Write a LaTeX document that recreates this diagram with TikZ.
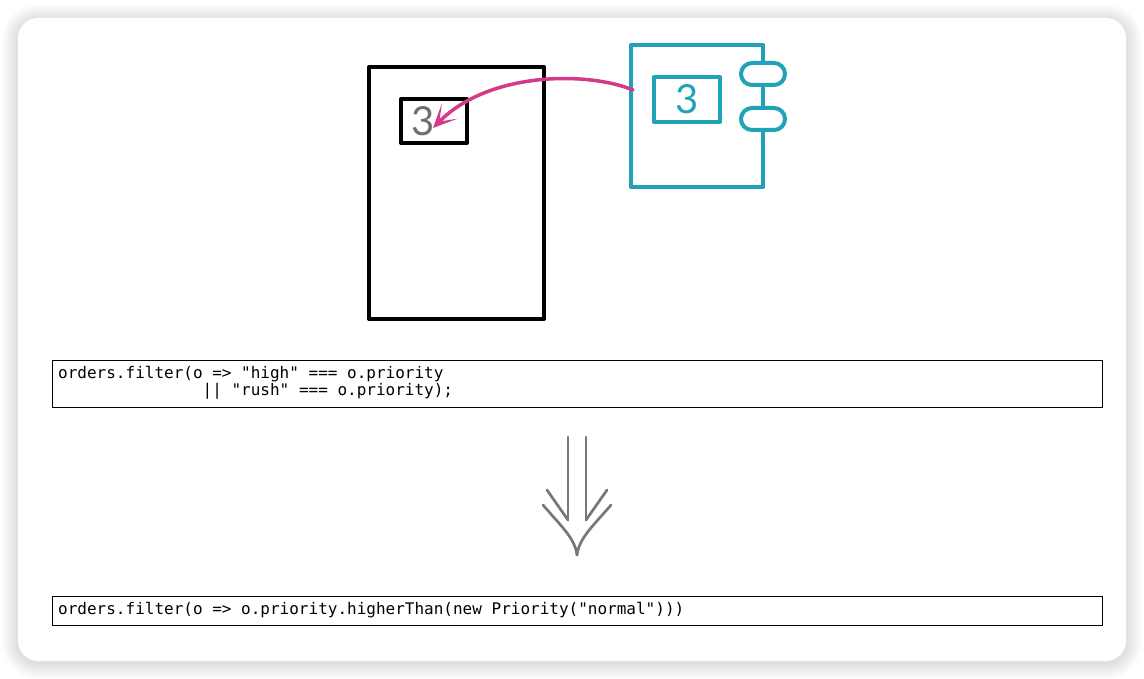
\documentclass[tikz,border=0pt]{standalone}
\usepackage{fontspec}
\setmonofont{DejaVu Sans Mono}
\newfontfamily\digitfont{Lato}
\usetikzlibrary{arrows.meta}
\definecolor{tealc}{RGB}{33,163,183}
\definecolor{magc}{RGB}{212,58,138}
\definecolor{grayarrow}{RGB}{120,120,120}
\definecolor{graydigit}{RGB}{110,110,110}
\tikzset{
  blackbox/.style={draw=black, line width=4pt, line join=round, outer sep=0pt},
  tealline/.style={draw=tealc, line width=4pt, line join=round, outer sep=0pt},
  codebox/.style={draw=black, line width=0.9pt, anchor=north west, inner sep=0pt, outer sep=0pt},
  codetext/.style={font=\fontsize{16}{17}\selectfont\ttfamily, align=left, anchor=north west, inner sep=0pt},
  digit/.style={font=\digitfont\fontsize{40}{40}\selectfont, inner sep=0pt},
  gline/.style={draw=grayarrow, line width=2.7pt, line cap=round, line join=round},
}
\begin{document}
\begin{tikzpicture}[x=1pt,y=-1pt]
\useasboundingbox (0,0) rectangle (1144,679);
\fill[white] (0,0) rectangle (1144,679);
% card shadow
\foreach \i in {1,...,16}{
  \fill[black, opacity=0.009, rounded corners={20+\i}] (18-\i,18-\i+2) rectangle (1126+\i,661+\i+2);
}
\node[fill=white, rounded corners=20pt, minimum width=1108pt, minimum height=643pt, inner sep=0pt, outer sep=0pt, anchor=north west] (card) at (18,18) {};

% black storage box
\node[blackbox, minimum width=175pt, minimum height=252pt, anchor=north west, inner sep=0pt] (store) at (369,67) {};
\node[blackbox, minimum width=66pt, minimum height=44pt, anchor=north west, inner sep=0pt] (slot) at (401,99) {};
\node[digit, text=graydigit] (d1) at (423,121) {3};

% teal object
\coordinate (tl) at (631,45);
\coordinate (bl) at (631,187);
\draw[tealline] (763,62) -- (763,45) -- (tl) -- (bl) -- (763,187) -- (763,131);
\draw[tealline] (763,86) -- (763,107);
\node[tealline, rounded corners=11pt, minimum width=44pt, minimum height=22pt, inner sep=0pt] (p1) at (763,74) {};
\node[tealline, rounded corners=11pt, minimum width=44pt, minimum height=22pt, inner sep=0pt] (p2) at (763,119) {};
\node[tealline, minimum width=66pt, minimum height=45pt, anchor=north west, inner sep=0pt] (tslot) at (654,77) {};
\node[digit, text=tealc] (d2) at (687,99) {3};
\coordinate (src) at (633,90);
\coordinate (tip) at (433,128);

% magenta arrow
\draw[magc, line width=3.5pt, line cap=round, -{Stealth[length=24pt,width=22pt,inset=15pt]}]
  (src) .. controls (590,72) and (490,70) .. (tip);

% code boxes
\node[codebox, minimum width=1050pt, minimum height=47pt] (code1) at (52,360) {};
\node[codetext] (t1) at (58,366) {orders.filter(o => "high" === o.priority\\
\phantom{orders.filter(o}|| "rush" === o.priority);};

\node[codebox, minimum width=1050pt, minimum height=29pt] (code2) at (52,596) {};
\node[codetext] (t2) at (58,602) {orders.filter(o => o.priority.higherThan(new Priority("normal")))};

% gray double arrow
\coordinate (a1) at (568,437);
\coordinate (a2) at (586,437);
\coordinate (a1e) at (568,520);
\coordinate (a2e) at (586,520);
\coordinate (atip) at (577,555);
\draw[gline] (a1) -- (a1e);
\draw[gline] (a2) -- (a2e);
\draw[gline] (547,490) -- (a1e);
\draw[gline] (607,490) -- (a2e);
\draw[gline] (543,505) .. controls (560,525) and (575,538) .. (atip);
\draw[gline] (611,505) .. controls (594,525) and (579,538) .. (atip);
\end{tikzpicture}
\end{document}
